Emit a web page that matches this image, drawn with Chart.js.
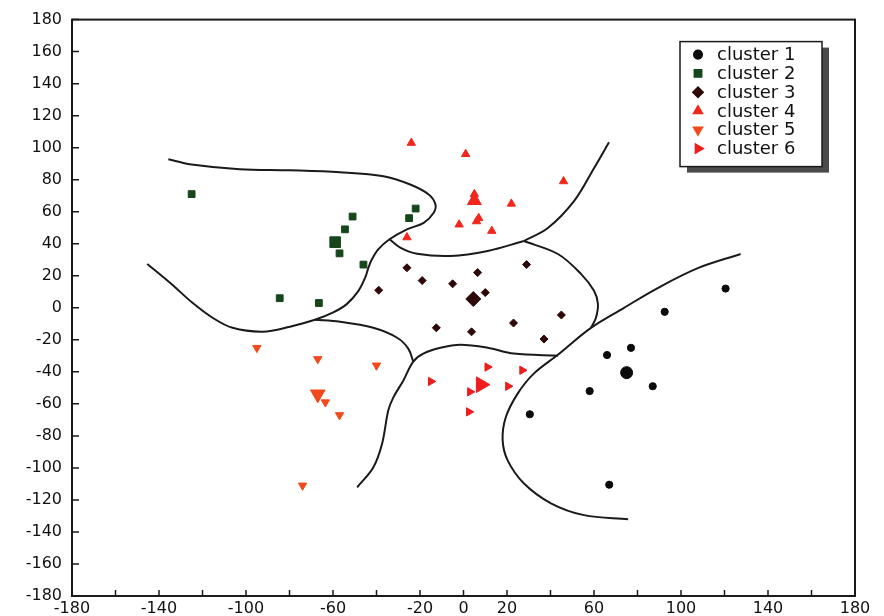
<!DOCTYPE html>
<html>
<head>
<meta charset="utf-8">
<script src="https://cdn.jsdelivr.net/npm/chart.js@4.4.1/dist/chart.umd.min.js"></script>
<style>
  html, body { margin: 0; padding: 0; background: #fff; }
  #wrap { width: 884px; height: 616px; }
</style>
</head>
<body>
<div id="wrap"><canvas id="c"></canvas></div>
<script>
// Axis labels shown under the x axis (ticks every 20, only these labelled)
const X_TICK_LABELS = [-180, -140, -100, -60, -20, 0, 20, 60, 100, 140, 180];

const CLUSTER_NAMES = ['cluster 1', 'cluster 2', 'cluster 3', 'cluster 4', 'cluster 5', 'cluster 6'];

// members of each cluster [x, y]
const cluster1 = [[120.5, 12], [92.5, -2.5], [77, -25], [66, -29.5], [87, -49], [58, -52], [30.5, -66.5], [67, -110.5]];
const cluster2 = [[-125, 71], [-84.5, 6], [-66.5, 3], [-57, 34], [-54.5, 49], [-51, 57], [-46, 27], [-25, 56], [-22, 62]];
const cluster3 = [[-26, 25], [-19, 17], [-5, 15], [6.5, 22], [29, 27], [-39, 11], [10, 9.5], [45, -4.5], [-12.5, -12.5], [3.7, -15], [23, -9.5], [37, -19.5]];
const cluster4 = [[-24, 103], [1, 96], [46, 79], [5, 71], [22, 65], [-2, 52], [7, 56], [6, 54], [13, 48], [-26, 44]];
const cluster5 = [[-95, -25], [-67, -32], [-40, -36], [-63.5, -59], [-57, -67], [-74, -111]];
const cluster6 = [[11, -37], [27, -39], [-15, -46], [3, -52.5], [20.5, -49], [2.5, -65]];

// cluster centres (drawn bigger), same order as the clusters
const centres = [[75, -40.5], [-59, 41], [4.5, 5.5], [5, 67], [-67, -54], [8, -48]];

// boundary curves between the cluster regions
const boundaryA = [[-135.7, 92.8], [-126, 89.7], [-102.9, 86.6], [-79.8, 85.9], [-56.8, 84.7], [-36.8, 82.2], [-24.5, 77], [-16, 70.8], [-12.9, 64.6], [-13.7, 59.4], [-18.3, 53.1], [-26, 49], [-34, 42.8], [-39.1, 36.6], [-42.1, 30.3], [-43.7, 25.1], [-45.2, 18.9], [-48.3, 10.6], [-53.7, 2.3], [-59.9, -2.9], [-68.3, -7.5], [-79.8, -11.8], [-92.3, -14.9], [-106.2, -12.5], [-115.4, -6.2], [-124.6, 3.1], [-134.3, 14.9], [-145.4, 27.4]];
const boundaryB = [[-34, 42.8], [-29.1, 37.6], [-21.4, 33.8], [-6, 32.4], [11.1, 35.5], [27.7, 41.7]];
const boundaryC = [[27.7, 41.7], [38.8, 49.8], [50.8, 66.6], [60, 87.2], [66.9, 103.4]];
const boundaryD = [[27.7, 41.7], [43.4, 33.6], [54, 21.2], [60, 10.6], [61.8, 2.5], [60.9, -6.2], [58.6, -12.5]];
const boundaryE = [[127.4, 33.6], [108, 24.9], [89.5, 12.5], [73.8, 0], [58.6, -12.5], [43.4, -29.3], [32.3, -41.1], [24.9, -53.6], [19.4, -68.5], [18, -82.8], [20.3, -95.3], [27.7, -109.6], [40.2, -122.1], [55.4, -129.5], [75.7, -132]];
const boundaryF = [[-48.9, -112.1], [-41.5, -99.7], [-37.4, -84.7], [-34.6, -64.2], [-32.3, -56.1], [-27.7, -45.5], [-23.1, -33.6], [-18.5, -28.6], [-10.6, -24.9], [-1.4, -23], [11.1, -24.9], [23.1, -28.6], [43.4, -29.9]];
const boundaryG = [[-68.3, -7.5], [-56.8, -8.7], [-41.5, -12.5], [-30.5, -18.7], [-25.4, -25.5], [-23.1, -33.6]];

// marker look per cluster
const markers = [
  { style: 'circle',   rot: 0,   color: '#0b0b0b', r: 3.6, rc: 6 },
  { style: 'rect',     rot: 0,   color: '#17461a', r: 4.8, rc: 7.5 },
  { style: 'rectRot',  rot: 0,   color: '#2e0808', r: 4,   rc: 7.5 },
  { style: 'triangle', rot: 0,   color: '#f2261b', r: 4.8, rc: 8 },
  { style: 'triangle', rot: 180, color: '#f04a1c', r: 4.8, rc: 8.5 },
  { style: 'triangle', rot: 90,  color: '#ee1c1c', r: 4.8, rc: 9 },
];

Chart.defaults.font.family = '"DejaVu Sans", "Liberation Sans", sans-serif';
Chart.defaults.color = '#111';

const toXY = (arr) => arr.map((p) => ({ x: p[0], y: p[1] }));
const clusters = [cluster1, cluster2, cluster3, cluster4, cluster5, cluster6];

const datasets = [];
clusters.forEach(function (pts, i) {
  const m = markers[i];
  datasets.push({
    label: CLUSTER_NAMES[i],
    data: toXY(pts.concat([centres[i]])),
    pointStyle: m.style,
    pointRotation: m.rot,
    pointBackgroundColor: m.color,
    pointBorderColor: m.color,
    pointBorderWidth: 1,
    pointRadius: (ctx) => ctx.dataIndex === pts.length ? m.rc : m.r,
  });
});
[boundaryA, boundaryB, boundaryC, boundaryD, boundaryE, boundaryF, boundaryG].forEach(function (b) {
  datasets.push({
    label: '',
    data: toXY(b),
    showLine: true,
    pointRadius: 0,
    borderColor: '#1a1a1a',
    borderWidth: 2,
    tension: 0.35,
    fill: false,
  });
});

// box round the plot + ticks pointing inwards
const framePlugin = {
  id: 'frame',
  afterDraw(chart) {
    const { ctx, chartArea: a } = chart;
    const xs = chart.scales.x, ys = chart.scales.y;
    ctx.save();
    ctx.strokeStyle = '#1a1a1a';
    ctx.lineWidth = 1.5;
    ctx.beginPath();
    xs.ticks.forEach((t) => {
      const px = xs.getPixelForValue(t.value);
      ctx.moveTo(px, a.bottom);
      ctx.lineTo(px, a.bottom - 6);
    });
    ys.ticks.forEach((t) => {
      const py = ys.getPixelForValue(t.value);
      ctx.moveTo(a.left, py);
      ctx.lineTo(a.left + 7, py);
    });
    ctx.stroke();
    ctx.lineWidth = 2;
    ctx.strokeRect(a.left, a.top, a.right - a.left, a.bottom - a.top);
    ctx.restore();
  },
};

// legend box with drop shadow, top right inside the plot
const legendPlugin = {
  id: 'boxLegend',
  afterDraw(chart) {
    const { ctx, chartArea: a } = chart;
    const w = 142, h = 125;
    const bx = a.right - 33 - w, by = a.top + 22;
    ctx.save();
    ctx.fillStyle = '#4a4a4a';
    ctx.fillRect(bx + 7, by + 6, w, h);
    ctx.fillStyle = '#fff';
    ctx.fillRect(bx, by, w, h);
    ctx.strokeStyle = '#1a1a1a';
    ctx.lineWidth = 1.5;
    ctx.strokeRect(bx, by, w, h);
    ctx.font = '18px "DejaVu Sans", sans-serif';
    ctx.textBaseline = 'middle';
    CLUSTER_NAMES.forEach(function (name, i) {
      const m = markers[i];
      const y = by + 13 + i * 18.8;
      ctx.fillStyle = m.color;
      ctx.strokeStyle = m.color;
      Chart.helpers.drawPoint(ctx, { pointStyle: m.style, rotation: m.rot, radius: m.style === 'circle' ? 4.3 : 5.2, borderWidth: 1 }, bx + 18, y);
      ctx.fillStyle = '#111';
      ctx.fillText(name, bx + 37, y + 1);
    });
    ctx.restore();
  },
};

new Chart(document.getElementById('c'), {
  type: 'scatter',
  data: { datasets },
  options: {
    responsive: true,
    maintainAspectRatio: false,
    animation: false,
    events: [],
    layout: { padding: { left: 0, right: 29, top: 18, bottom: 0 } },
    plugins: { legend: { display: false }, tooltip: { enabled: false } },
    scales: {
      x: {
        type: 'linear', min: -180, max: 180,
        grid: { display: false, drawTicks: false },
        border: { display: false },
        ticks: {
          stepSize: 20, autoSkip: false, maxRotation: 0, padding: 3,
          font: { size: 16 },
          callback: (v) => X_TICK_LABELS.includes(v) ? String(v) : '',
        },
        afterFit: (s) => { s.height = 20; },
      },
      y: {
        type: 'linear', min: -180, max: 180,
        grid: { display: false, drawTicks: false },
        border: { display: false },
        ticks: { stepSize: 20, autoSkip: false, padding: 10, font: { size: 16 } },
        afterFit: (s) => { s.width = 72; },
      },
    },
  },
  plugins: [framePlugin, legendPlugin],
});
</script>
</body>
</html>
